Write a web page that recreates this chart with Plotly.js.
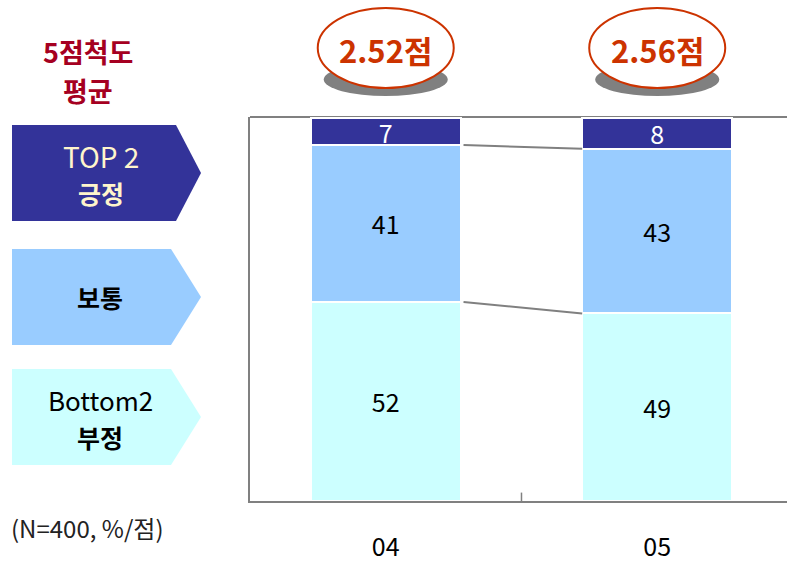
<!DOCTYPE html>
<html><head><meta charset="utf-8">
<script src="https://cdn.plot.ly/plotly-3.0.1.min.js"></script>
<style>html,body{margin:0;padding:0;background:#fff;overflow:hidden}</style>
</head><body>
<div id="chart" style="width:787px;height:564px"></div>
<script>
// ---- data ----
const categories = ['04', '05'];
const bottom2 = [52, 49];
const neutral = [41, 43];
const top2 = [7, 8];
const means = ['2.52점', '2.56점'];
const seriesNames = ['Bottom2 부정', '보통', 'TOP 2 긍정'];

const FONT = '"Noto Sans CJK KR", "Noto Sans", sans-serif';
const xIdx = categories.map((c, i) => i);
const bw = 0.553;

function barTrace(vals, name, color, txtColor) {
  return {
    type: 'bar', x: xIdx, y: vals, name: name, width: bw,
    marker: {color: color, line: {color: '#ffffff', width: 2}},
    text: vals.map(String), textposition: 'inside', insidetextanchor: 'middle',
    textangle: 0, constraintext: 'none',
    insidetextfont: {family: FONT, size: 25, color: txtColor},
    hoverinfo: 'skip', showlegend: false
  };
}

const cumMid = bottom2.map((v, i) => v + neutral[i]);
const linkX = [xIdx[0] + bw / 2 + 0.01, xIdx[1] - bw / 2];

const traces = [
  barTrace(bottom2, seriesNames[0], '#CCFFFF', '#000000'),
  barTrace(neutral, seriesNames[1], '#99CCFF', '#000000'),
  barTrace(top2, seriesNames[2], '#333399', '#ffffff'),
  {type: 'scatter', mode: 'lines', x: linkX, y: [bottom2[0], bottom2[1]],
   line: {color: '#808080', width: 2}, hoverinfo: 'skip', showlegend: false},
  {type: 'scatter', mode: 'lines', x: linkX, y: [cumMid[0], cumMid[1]],
   line: {color: '#808080', width: 2}, hoverinfo: 'skip', showlegend: false}
];

const shapes = [
  {type: 'line', xref: 'paper', yref: 'paper', x0: 0, x1: 1, y0: 1, y1: 1,
   line: {color: '#808080', width: 2}, layer: 'below'},
  {type: 'line', xref: 'x', yref: 'y', x0: 0.5, x1: 0.5, y0: 0, y1: 2.2,
   line: {color: '#808080', width: 1.5}}
];
// ellipses with shadow above bars
xIdx.forEach(i => {
  shapes.push({type: 'circle', xref: 'x', yref: 'paper', xsizemode: 'pixel', ysizemode: 'pixel',
    xanchor: i, yanchor: 1, x0: -62, x1: 62, y0: 21, y1: 54,
    fillcolor: '#808080', line: {width: 0}});
  shapes.push({type: 'circle', xref: 'x', yref: 'paper', xsizemode: 'pixel', ysizemode: 'pixel',
    xanchor: i, yanchor: 1, x0: -68, x1: 68, y0: 29, y1: 109,
    fillcolor: '#ffffff', line: {color: '#CC3300', width: 2}});
});
// left arrow labels
const W = 787, H = 564, ml = 250, mt = 117, mb = 63;
const pw = W - ml, ph = H - mt - mb;
function px(x) { return (x - ml) / pw; }
function py(y) { return (H - mb - y) / ph; }
function pent(x0, x1, xt, y0, y1, color) {
  const ym = (y0 + y1) / 2;
  return {type: 'path', xref: 'paper', yref: 'paper',
    path: `M ${px(x0)} ${py(y0)} L ${px(x1)} ${py(y0)} L ${px(xt)} ${py(ym)} L ${px(x1)} ${py(y1)} L ${px(x0)} ${py(y1)} Z`,
    fillcolor: color, line: {width: 0}};
}
shapes.push(pent(12, 176, 201, 125, 221, '#333399'));
shapes.push(pent(12, 171, 201, 249, 345, '#99CCFF'));
shapes.push(pent(12, 171, 201, 369, 465, '#CCFFFF'));

function ann(text, x, y, size, color, bold) {
  return {xref: 'paper', yref: 'paper', x: px(x), y: py(y), text: bold ? '<b>' + text + '</b>' : text,
    showarrow: false, xanchor: 'center', yanchor: 'middle',
    font: {family: FONT, size: size, color: color}};
}
const annotations = [
  ann('5점척도', 88, 51, 27, '#A50021', true),
  ann('평균', 88, 90, 27, '#A50021', true),
  ann('TOP 2', 101, 156, 28, '#FFF5CC', false),
  ann('긍정', 101, 193, 25, '#FFF5CC', true),
  ann('보통', 100, 297, 25, '#000000', true),
  ann('Bottom2', 100, 399, 26, '#000000', false),
  ann('부정', 100, 437, 25, '#000000', true),
  ann('(N=400, %/점)', 87, 527, 24, '#222222', false)
];
xIdx.forEach(i => {
  annotations.push({xref: 'x', yref: 'paper', x: i, y: py(49), text: '<b>' + means[i] + '</b>',
    showarrow: false, xanchor: 'center', yanchor: 'middle',
    font: {family: FONT, size: 31, color: '#CC3300'}});
});

const layout = {
  width: W, height: H,
  margin: {l: ml, r: 0, t: mt, b: mb},
  paper_bgcolor: '#ffffff', plot_bgcolor: '#ffffff',
  barmode: 'stack', showlegend: false,
  xaxis: {range: [-0.5, 1.478], tickvals: xIdx, ticktext: categories,
    showgrid: false, zeroline: false, showline: true, linecolor: '#808080', linewidth: 2,
    ticks: 'outside', ticklen: 23, tickcolor: 'rgba(0,0,0,0)',
    tickfont: {family: FONT, size: 25, color: '#000000'}, fixedrange: true},
  yaxis: {range: [0, 100.3], showgrid: false, zeroline: false, showticklabels: false,
    showline: true, linecolor: '#808080', linewidth: 2, ticks: '', fixedrange: true},
  shapes: shapes, annotations: annotations
};
Plotly.newPlot('chart', traces, layout, {displayModeBar: false, staticPlot: true});
</script>
</body></html>
